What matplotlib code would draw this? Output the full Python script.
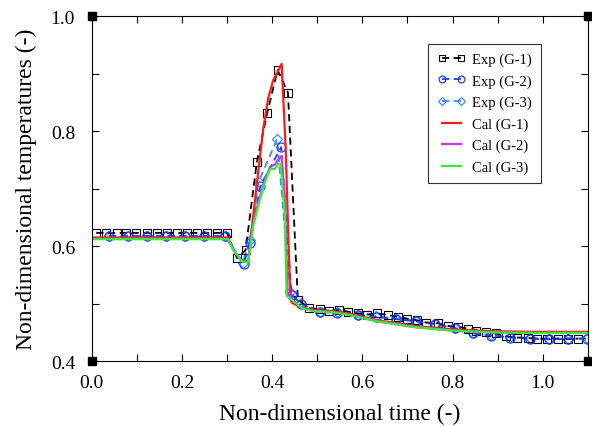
import numpy as np
import matplotlib
matplotlib.use("Agg")
import matplotlib.pyplot as plt
from matplotlib.ticker import MultipleLocator

plt.rcParams["font.family"] = "serif"
plt.rcParams["font.serif"] = ["Liberation Serif", "DejaVu Serif"]

# experimental data (G-1, squares)
exp1_x = [0.010, 0.032, 0.055, 0.077, 0.099, 0.122, 0.144, 0.166, 0.189, 0.211, 0.233, 0.256, 0.278, 0.300,
          0.322, 0.341, 0.366, 0.389, 0.412, 0.435, 0.457, 0.482, 0.506, 0.526, 0.548, 0.568, 0.590, 0.610,
          0.633, 0.657, 0.678, 0.698, 0.721, 0.742, 0.767, 0.789, 0.812, 0.834, 0.852, 0.875, 0.897, 0.919,
          0.943, 0.967, 0.987, 1.010, 1.034, 1.056, 1.078]
exp1_y = [0.623, 0.623, 0.623, 0.623, 0.623, 0.623, 0.623, 0.623, 0.623, 0.623, 0.623, 0.623, 0.623, 0.623,
          0.579, 0.593, 0.746, 0.831, 0.906, 0.867, 0.507, 0.492, 0.490, 0.487, 0.489, 0.486, 0.483, 0.481,
          0.483, 0.480, 0.477, 0.474, 0.471, 0.467, 0.466, 0.461, 0.460, 0.456, 0.453, 0.451, 0.448, 0.443,
          0.441, 0.440, 0.439, 0.439, 0.439, 0.439, 0.439]

# experimental data (G-2, circles)
exp2_x = [0.038, 0.080, 0.122, 0.164, 0.206, 0.248, 0.295, 0.337, 0.350, 0.374, 0.420, 0.443, 0.465,
          0.506, 0.544, 0.590, 0.630, 0.675, 0.718, 0.761, 0.805, 0.846, 0.886, 0.927, 0.972, 1.013,
          1.055, 1.097]
exp2_y = [0.617, 0.617, 0.617, 0.617, 0.617, 0.617, 0.617, 0.569, 0.605, 0.705, 0.772, 0.515, 0.499,
          0.485, 0.484, 0.480, 0.477, 0.473, 0.469, 0.464, 0.457, 0.448, 0.444, 0.441, 0.439, 0.438,
          0.438, 0.439]

# experimental data (G-3, diamonds)
exp3_x = [0.038, 0.080, 0.122, 0.164, 0.206, 0.248, 0.295, 0.335, 0.350, 0.370, 0.411, 0.440, 0.463,
          0.506, 0.544, 0.590, 0.630, 0.675, 0.718, 0.761, 0.805, 0.846, 0.886, 0.927, 0.972, 1.013,
          1.055, 1.097]
exp3_y = [0.618, 0.618, 0.618, 0.618, 0.618, 0.618, 0.618, 0.571, 0.610, 0.712, 0.786, 0.520, 0.501,
          0.486, 0.485, 0.481, 0.478, 0.474, 0.470, 0.465, 0.458, 0.449, 0.445, 0.442, 0.440, 0.439,
          0.439, 0.440]

# calculations
cal1_x = [0.0, 0.302, 0.313, 0.332, 0.347, 0.358, 0.369, 0.380, 0.391, 0.402, 0.421, 0.430, 0.439, 0.443,
          0.452, 0.466, 0.492, 0.533, 0.567, 0.634, 0.718, 0.801, 0.885, 0.969, 1.1]
cal1_y = [0.615, 0.615, 0.595, 0.574, 0.572, 0.653, 0.728, 0.803, 0.856, 0.888, 0.917, 0.769, 0.537, 0.502,
          0.498, 0.493, 0.489, 0.487, 0.483, 0.471, 0.461, 0.455, 0.452, 0.451, 0.451]

cal2_x = [0.0, 0.302, 0.313, 0.332, 0.347, 0.358, 0.369, 0.384, 0.395, 0.406, 0.413, 0.421, 0.428, 0.434,
          0.448, 0.466, 0.492, 0.533, 0.567, 0.634, 0.718, 0.801, 0.885, 0.969, 1.1]
cal2_y = [0.613, 0.613, 0.595, 0.574, 0.572, 0.640, 0.675, 0.715, 0.737, 0.742, 0.750, 0.757, 0.680, 0.520,
          0.505, 0.492, 0.487, 0.485, 0.481, 0.469, 0.459, 0.453, 0.450, 0.449, 0.449]

cal3_x = [0.0, 0.302, 0.313, 0.332, 0.347, 0.358, 0.369, 0.384, 0.395, 0.406, 0.413, 0.419, 0.428, 0.432,
          0.446, 0.466, 0.492, 0.533, 0.567, 0.634, 0.718, 0.801, 0.885, 0.969, 1.1]
cal3_y = [0.612, 0.612, 0.595, 0.574, 0.572, 0.635, 0.670, 0.711, 0.734, 0.734, 0.743, 0.743, 0.653, 0.514,
          0.505, 0.492, 0.487, 0.485, 0.481, 0.469, 0.459, 0.453, 0.450, 0.449, 0.449]

fig = plt.figure(figsize=(5.92, 4.27), dpi=100)
ax = fig.add_axes([0.155, 0.152, 0.838, 0.808])

ax.plot(exp1_x, exp1_y, ls=(0, (4, 2.5)), color="black", lw=1.3, marker="s", ms=6,
        mfc="none", mec="black", mew=0.8, label="Exp (G-1)")
ax.plot(exp2_x, exp2_y, ls=(0, (4, 2.5)), color="#1a3cff", lw=1.3, marker="o", ms=6.5,
        mfc="none", mec="#1a3cff", mew=0.9, label="Exp (G-2)")
ax.plot(exp3_x, exp3_y, ls=(0, (4, 2.5)), color="#3d8cff", lw=1.3, marker="D", ms=5,
        mfc="none", mec="#3d8cff", mew=0.9, label="Exp (G-3)", zorder=1.9)
ax.plot(cal1_x, cal1_y, color="#ff1a1a", lw=1.6, label="Cal (G-1)")
ax.plot(cal2_x, cal2_y, color="#cc33ff", lw=1.6, label="Cal (G-2)")
ax.plot(cal3_x, cal3_y, color="#33ee33", lw=1.6, label="Cal (G-3)")

ax.set_xlim(0, 1.1)
ax.set_ylim(0.4, 1.0)
ax.xaxis.set_minor_locator(MultipleLocator(0.1))
ax.yaxis.set_major_locator(MultipleLocator(0.2))
ax.yaxis.set_minor_locator(MultipleLocator(0.1))
ax.set_xticks([0.0, 0.2, 0.4, 0.6, 0.8, 1.0])
ax.tick_params(which="both", direction="in", top=True, right=True, length=5, width=0.8,
               labelsize=14)
ax.tick_params(axis="y", pad=12)
ax.tick_params(axis="x", pad=9)
for s in ax.spines.values():
    s.set_linewidth(0.8)

# filled squares at the corners of the frame
ax.plot([0, 0, 1, 1], [0, 1, 0, 1], ls="none", marker="s", ms=6, color="black",
        transform=ax.transAxes, clip_on=False, zorder=5)

ax.set_xlabel("Non-dimensional time (-)", fontsize=17, labelpad=9)
ax.set_ylabel("Non-dimensional temperatures (-)", fontsize=17, labelpad=10)

leg = ax.legend(loc="upper right", bbox_to_anchor=(0.905, 0.919), borderaxespad=0,
                fontsize=10.5, frameon=True, fancybox=False, edgecolor="black", numpoints=2,
                handlelength=1.9, handletextpad=0.5, labelspacing=0.55, borderpad=0.6,
                markerscale=0.75)
leg.get_frame().set_linewidth(0.8)

plt.savefig("out.png", dpi=100)
